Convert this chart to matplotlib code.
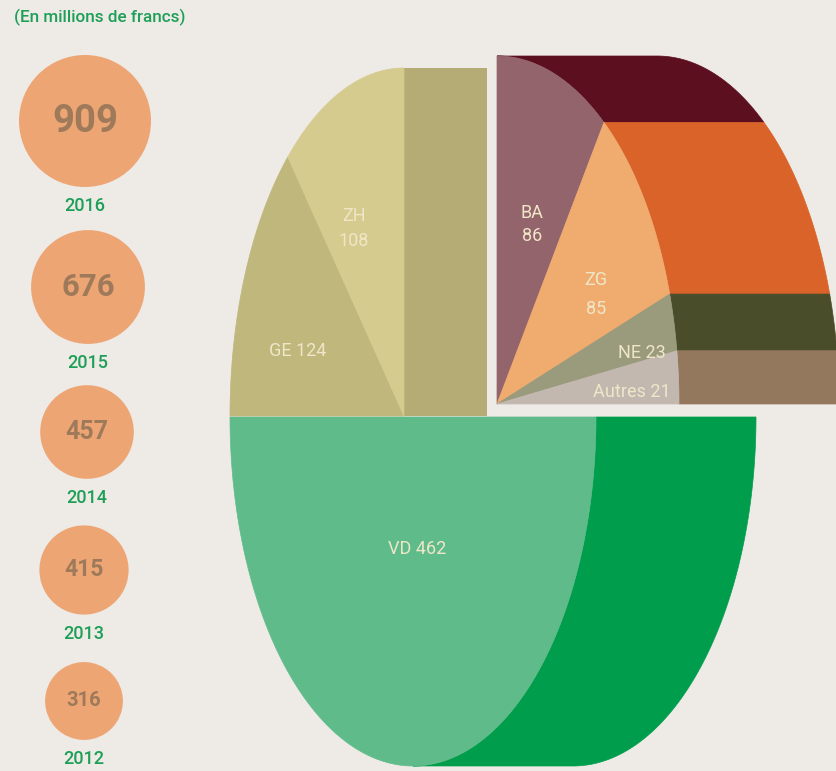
import numpy as np
import matplotlib
matplotlib.use("Agg")
import matplotlib.pyplot as plt
from matplotlib.patches import Polygon, Circle, Rectangle

# ---------------- data ----------------
years = ["2016", "2015", "2014", "2013", "2012"]
totals = [909, 676, 457, 415, 316]

regions = ["VD", "GE", "ZH", "BA", "ZG", "NE", "Autres"]
values_2016 = [462, 124, 108, 86, 85, 23, 21]
block_of = [0, 1, 1, 2, 2, 2, 2]          # block each canton belongs to
stacked = [False, False, True, True, True, False, False]

# ---------------- style / layout ----------------
BG = "#EEEAE6"
front_colors = ["#5FBC8A", "#BFB77C", "#D5CB8E", "#94646C", "#F0AC6E", "#9A9A7C", "#C3B8B0"]
side_colors = ["#009D4C", "#B5AC75", "#B5AC75", "#5C0F1E", "#D96329", "#4A4D2A", "#94785D"]
LABEL_C = "#EFE6C8"
GREEN_TXT = "#1E9F57"
CIRCLE_C = "#EDA574"
NUM_C = "#9E7A5B"

# blocks: centre x, centre y, rx, ry, start angle, span (clockwise)
blocks = [
    dict(cx=413, cy=417, rx=183, ry=349, start=0, span=180),
    dict(cx=404, cy=416, rx=174, ry=348, start=180, span=90),
    dict(cx=497, cy=404, rx=182, ry=348, start=90, span=90),
]
DEPTH = 160
GAP = 10
# label placement (radius fraction, angle) in each block
label_polar = [(0.38, -87), (0.64, 163), (0.61, 118), (0.55, 69.5),
               (0.63, 30), (0.81, 10.5), (0.74, 2.6)]
label_spacing = [1.2, 1.2, 1.45, 1.35, 1.75, 1.2, 1.2]

FONT = "Roboto"

fig = plt.figure(figsize=(8.37, 7.71), dpi=100, facecolor=BG)
ax = fig.add_axes([0, 0, 1, 1])
ax.set_xlim(0, 837)
ax.set_ylim(771, 0)
ax.axis("off")
ax.set_facecolor(BG)


def arc(b, t1, t2, n=120, dx=0.0):
    t = np.radians(np.linspace(t1, t2, n))
    return np.column_stack([b["cx"] + dx + b["rx"] * np.cos(t),
                            b["cy"] - b["ry"] * np.sin(t)])


# compute slice angles (proportional within their block)
slices = []
for bi, b in enumerate(blocks):
    idx = [i for i, g in enumerate(block_of) if g == bi]
    tot = sum(values_2016[i] for i in idx)
    a = b["start"]
    for i in idx:
        da = values_2016[i] / tot * b["span"]
        slices.append((i, bi, a - da, a))   # (index, block, low, high)
        a -= da
slices.sort(key=lambda s: s[0])


def draw_block(bi, z=2):
    b = blocks[bi]
    mine = [s for s in slices if s[1] == bi]
    # side (extruded) surfaces
    for i, _, lo, hi in mine:
        vlo, vhi = max(lo, -90), min(hi, 90)
        if vlo < vhi:
            pts = np.vstack([arc(b, vlo, vhi), arc(b, vhi, vlo, dx=DEPTH)])
            ax.add_patch(Polygon(pts, closed=True, facecolor=side_colors[i],
                                 edgecolor=side_colors[i], lw=0.5, zorder=z))
    # vertical radial face visible when block lies left of the 90 deg edge;
    # it is hidden behind the exploded block (minus a small gap)
    if min(s[2] for s in mine) >= 90 - 1e-9:
        i = [s for s in mine if abs(s[2] - 90) < 1e-6][0][0]
        w = min(DEPTH, blocks[2]["cx"] - GAP - b["cx"])
        ax.add_patch(Rectangle((b["cx"], b["cy"] - b["ry"]), w, b["ry"],
                               facecolor=side_colors[i], edgecolor="none", zorder=z))
    # front faces
    for i, _, lo, hi in mine:
        pts = np.vstack([[b["cx"], b["cy"]], arc(b, lo, hi)])
        ax.add_patch(Polygon(pts, closed=True, facecolor=front_colors[i],
                             edgecolor=front_colors[i], lw=0.5, zorder=z + 0.5))


draw_block(0)
draw_block(1)
draw_block(2, z=4)

# labels
for i, (r, ang) in enumerate(label_polar):
    b = blocks[block_of[i]]
    x = b["cx"] + r * b["rx"] * np.cos(np.radians(ang))
    y = b["cy"] - r * b["ry"] * np.sin(np.radians(ang))
    sep = "\n" if stacked[i] else " "
    ax.text(x, y, f"{regions[i]}{sep}{values_2016[i]}", color=LABEL_C,
            fontsize=13, family=FONT, ha="center", va="center",
            linespacing=label_spacing[i], zorder=10)

# ---------------- yearly totals circles ----------------
circle_x = [85, 88, 87, 84, 84]
circle_y = [121, 287, 432, 570, 701]
num_sizes = [27.5, 22.5, 18, 16.5, 14.5]
rmax = 66
for yr, v, x, y, fs in zip(years, totals, circle_x, circle_y, num_sizes):
    r = rmax * np.sqrt(v / max(totals))
    ax.add_patch(Circle((x, y), r, facecolor=CIRCLE_C, edgecolor="none", zorder=3))
    ax.text(x, y, str(v), color=NUM_C, fontsize=fs, family=FONT,
            fontweight="bold", ha="center", va="center", zorder=4)
    ax.text(x, y + r + 19, yr, color=GREEN_TXT, fontsize=13, family=FONT,
            fontweight="medium", ha="center", va="center", zorder=4)

ax.text(14, 17, "(En millions de francs)", color=GREEN_TXT, fontsize=12.3,
        family=FONT, fontweight="medium", ha="left", va="center")

fig.savefig("out.png", dpi=100, facecolor=BG)
